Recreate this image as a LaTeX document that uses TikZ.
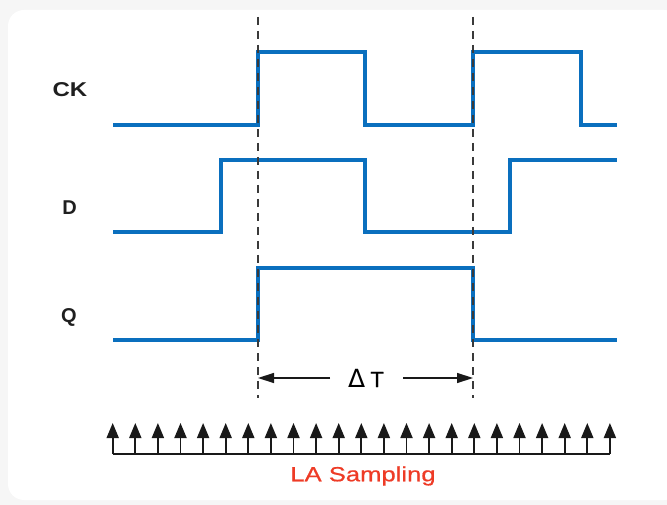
\documentclass[tikz,border=0pt]{standalone}
\usepackage{fontspec}
\setmainfont{Liberation Sans}
\newfontfamily\symfont{DejaVu Sans}
\newfontfamily\heavyfont[FakeBold=0.6]{Liberation Sans}
\usetikzlibrary{arrows.meta}
\definecolor{wave}{HTML}{0A6FBE}
\definecolor{lared}{HTML}{EE3B26}
\definecolor{dashc}{HTML}{3A3A3A}
\tikzset{
  sig/.style={draw=wave, line width=3.4pt, line join=miter},
  guide/.style={draw=dashc, line width=1.3pt, dash pattern=on 8pt off 6pt},
  lbl/.style={font=\bfseries\fontsize{20}{22}\selectfont, text=black!88},
  samp/.style={draw=black!90, line width=1.8pt, -{Triangle[length=15pt,width=12pt]}},
  dt/.style={draw=black!90, line width=1.4pt, -{Triangle[length=16pt,width=10pt]}}
}
\begin{document}
\begin{tikzpicture}[x=1pt,y=-1pt]
\useasboundingbox (0,0) rectangle (667,505);
\fill[gray!7] (0,0) rectangle (667,505);
\fill[white, rounded corners=16pt] (8,10) rectangle (680,500);
% labels
\node[lbl] (ck) at (70,90) {\scalebox{1.2}[1]{CK}};
\node[lbl] (d) at (69.5,208) {D};
\node[lbl] (q) at (69,317) {Q};
% waveforms
\draw[sig] (113,125) -- (258,125) -- (258,52) -- (365,52) -- (365,125) -- (473,125) -- (473,52) -- (581,52) -- (581,125) -- (617,125);
\draw[sig] (113,232) -- (221,232) -- (221,160) -- (365,160) -- (365,232) -- (510,232) -- (510,160) -- (617,160);
\draw[sig] (113,340) -- (258,340) -- (258,268) -- (473,268) -- (473,340) -- (617,340);
% guides
\coordinate (g1t) at (258,17); \coordinate (g1b) at (258,398);
\coordinate (g2t) at (473,17); \coordinate (g2b) at (473,398);
\draw[guide] (g1t) -- (g1b);
\draw[guide] (g2t) -- (g2b);
% delta T
\node[inner sep=0pt] (dtl) at (366,378) {{\symfont\fontsize{25}{28}\selectfont Δ}\hspace{5pt}{\heavyfont\fontsize{22}{24}\selectfont T}};
\coordinate (dta) at (258,378); \coordinate (dtb) at (473,378);
\coordinate (dtla) at (330,378); \coordinate (dtrb) at (403,378);
\draw[dt] (dtla) -- (dta);
\draw[dt] (dtrb) -- (dtb);
% sampling
\coordinate (s0) at (112.7,454);
\coordinate (s1) at (610,454);
\draw[black!90, line width=1.8pt] (s0) -- (s1);
\foreach \i in {0,...,22} {
  \coordinate (b\i) at ({112.7+\i*22.6},454);
  \coordinate (t\i) at ({112.7+\i*22.6},423);
  \draw[samp] (b\i) -- (t\i);
}
\node[text=lared, font=\heavyfont\fontsize{20.5}{24}\selectfont] (la) at (363,476) {\scalebox{1.25}[1]{LA Sampling}};
\end{tikzpicture}
\end{document}
